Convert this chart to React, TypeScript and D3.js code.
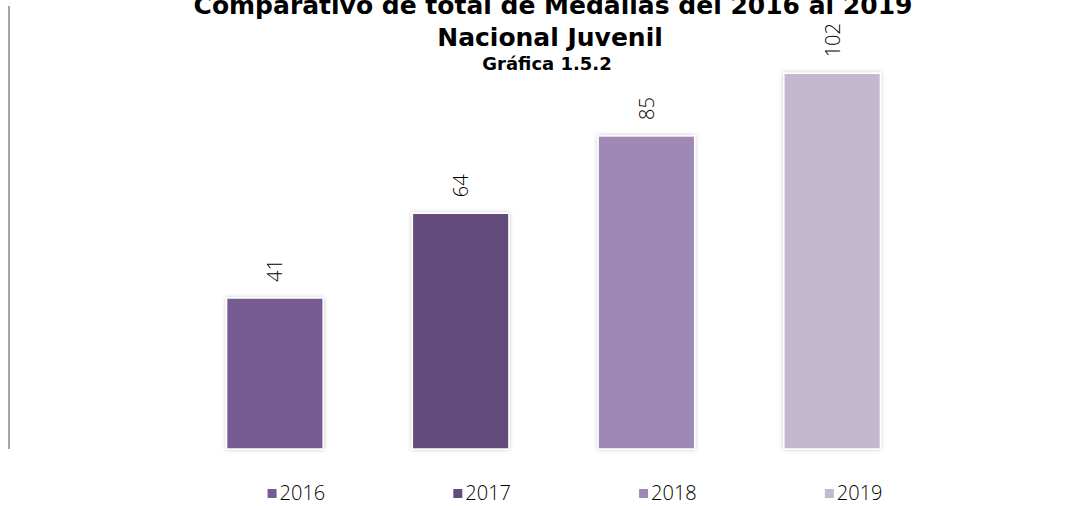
import React from "react";
import * as d3 from "d3";

const categories = ["2016", "2017", "2018", "2019"];
const values = [41, 64, 85, 102];
const colors = ["#775b94", "#634c7c", "#9d89b3", "#c3b8cf"];
const titleLines = ["Comparativo de total de Medallas del 2016 al 2019", "Nacional Juvenil"];
const subtitle = "Gráfica 1.5.2";

const W = 1091;
const H = 506;

export default function App() {
  const x = d3.scaleBand<string>().domain(categories).range([182, 925]).paddingInner(0.48).paddingOuter(0.24);
  const y = d3.scaleLinear().domain([0, 120]).range([449, 7]);
  const font = "'Open Sans', sans-serif";
  const tfont = "'DejaVu Sans', sans-serif";
  return (
    <svg width={W} height={H} style={{ position: "absolute", left: 0, top: 0, background: "#fff" }}>
      <defs>
        <filter id="sh" x="-10%" y="-10%" width="120%" height="120%">
          <feDropShadow dx="0" dy="0" stdDeviation="2" floodColor="#000" floodOpacity="0.22" />
        </filter>
      </defs>
      <rect width={W} height={H} fill="#fff" />
      <line x1={9} x2={9} y1={6} y2={449} stroke="#898989" strokeWidth={1.5} />
      {categories.map((c, i) => {
        const bx = x(c)!;
        const by = y(values[i]);
        const cx = bx + x.bandwidth() / 2;
        return (
          <g key={c}>
            <rect x={bx} y={by} width={x.bandwidth()} height={y(0) - by} fill={colors[i]} stroke="#fff" strokeWidth={1.5} filter="url(#sh)" />
            <text
              transform={`translate(${cx},${by - 16}) rotate(-90)`}
              textAnchor="start"
              dominantBaseline="central"
              fontFamily={font}
              fontWeight={300}
              fontSize={20}
              fill="#000"
            >
              {values[i]}
            </text>
          </g>
        );
      })}
      <text x={553} y={14} textAnchor="middle" fontFamily={tfont} fontWeight="bold" fontSize={25} fill="#000">
        {titleLines[0]}
      </text>
      <text x={550} y={46} textAnchor="middle" fontFamily={tfont} fontWeight="bold" fontSize={25} fill="#000">
        {titleLines[1]}
      </text>
      <text x={547} y={70} textAnchor="middle" fontFamily={tfont} fontWeight="bold" fontSize={18} fill="#000">
        {subtitle}
      </text>
      {categories.map((c, i) => {
        const sx = x(c)! + 41;
        return (
          <g key={"lg" + c}>
            <rect x={sx} y={489} width={9} height={9} fill={colors[i]} />
            <text x={sx + 12} y={500} fontFamily={font} fontWeight={300} fontSize={20} fill="#000">
              {c}
            </text>
          </g>
        );
      })}
    </svg>
  );
}
